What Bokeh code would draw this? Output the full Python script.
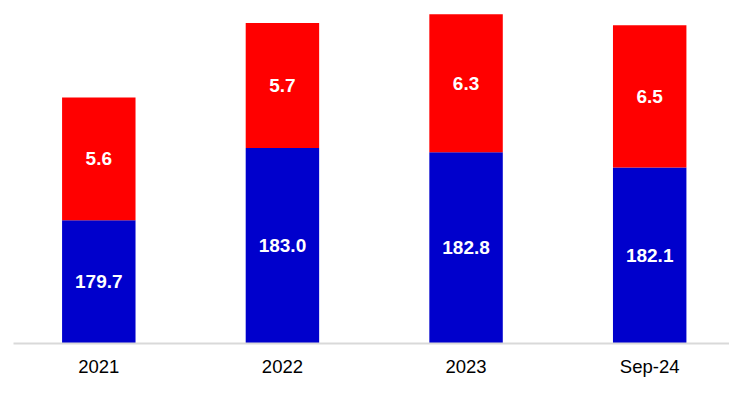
from bokeh.plotting import figure
from bokeh.models import ColumnDataSource, Range1d, FixedTicker, Legend, LegendItem
from bokeh.embed import file_html
from bokeh.resources import INLINE
from bokeh.core.properties import value

# ---- data ----
categories = ["2021", "2022", "2023", "Sep-24"]
deposit_banks = [179.7, 183.0, 182.8, 182.1]
devt_inv_banks = [5.6, 5.7, 6.3, 6.5]
series_names = ["Deposit banks", "Dev\u2019t. and inv. banks"]
series_colors = ["#0000CC", "#FF0000"]

# ---- layout constants ----
Y_START = 174.07
Y_END = 189.73
FONT = "Liberation Sans"

xs = list(range(len(categories)))
source = ColumnDataSource(dict(
    x=xs,
    dep=deposit_banks,
    dev=devt_inv_banks,
    dep_mid=[(Y_START + d) / 2 for d in deposit_banks],
    dev_mid=[d + v / 2 for d, v in zip(deposit_banks, devt_inv_banks)],
    dep_lbl=[f"{d:.1f}" for d in deposit_banks],
    dev_lbl=[f"{v:.1f}" for v in devt_inv_banks],
))

p = figure(frame_width=716, frame_height=343, output_backend="svg", toolbar_location=None,
           x_range=Range1d(-0.4645, 3.4346), y_range=Range1d(Y_START, Y_END),
           min_border_left=13, min_border_right=0, min_border_top=0,
           min_border_bottom=0)

renderers = p.vbar_stack(["dep", "dev"], x="x", width=0.4, color=series_colors,
                         line_color=None, source=source)

p.text(x="x", y="dep_mid", text="dep_lbl", source=source, text_align="center",
       text_baseline="middle", text_color="white", text_font=value(FONT),
       text_font_style="bold", text_font_size="19px")
p.text(x="x", y="dev_mid", text="dev_lbl", source=source, text_align="center",
       text_baseline="middle", text_color="white", text_font=value(FONT),
       text_font_style="bold", text_font_size="19px")

p.xaxis.ticker = FixedTicker(ticks=xs)
p.xaxis.major_label_overrides = {i: c for i, c in zip(xs, categories)}
p.xaxis.axis_line_color = "#D9D9D9"
p.xaxis.axis_line_width = 2
p.xaxis.major_tick_line_color = None
p.xaxis.major_tick_out = 0
p.xaxis.major_tick_in = 0
p.xaxis.minor_tick_line_color = None
p.xaxis.major_label_text_font = FONT
p.xaxis.major_label_text_font_size = "18.5px"
p.xaxis.major_label_text_color = "#000000"
p.xaxis.major_label_standoff = 12
p.xaxis.axis_label_standoff = 0
p.xaxis.axis_label_text_font_size = "1px"
p.yaxis.visible = False
p.xgrid.visible = False
p.ygrid.visible = False
p.outline_line_color = None

legend = Legend(items=[LegendItem(label=n, renderers=[r]) for n, r in zip(series_names, renderers)],
                location="center", orientation="horizontal",
                glyph_width=8, glyph_height=8, label_height=8, label_standoff=5,
                spacing=37, padding=0, margin=0,
                border_line_color=None, background_fill_alpha=0,
                label_text_font=FONT, label_text_font_size="18.5px",
                label_text_color="#595959")
p.add_layout(legend, "below")

open("out.html", "w").write(file_html(p, INLINE))
